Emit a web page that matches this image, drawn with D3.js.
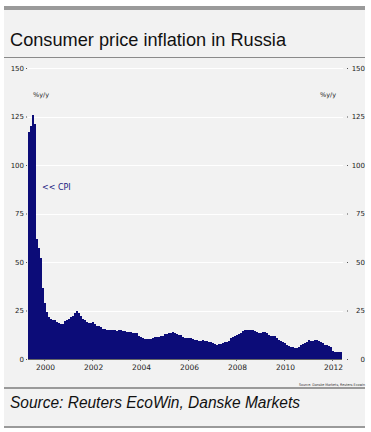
<!DOCTYPE html>
<html>
<head>
<meta charset="utf-8">
<script src="https://cdn.jsdelivr.net/npm/d3@7"></script>
<style>
  html, body { margin: 0; padding: 0; background: #ffffff; }
  svg { display: block; }
</style>
</head>
<body>
<svg id="chart" width="371" height="432"></svg>
<script>
// ---------- data ----------
const startMonth = "1999-05";           // first bar (monthly, y/y %)
const endMonth = "2012-06";             // axis end
const cpi1999 = [117, 120, 126, 121, 62, 57, 52, 36.5];           // May-Dec
const cpi2000 = [29, 24, 21.5, 20.5, 20, 20, 19, 18.5, 18, 18, 19.5, 20.2];
const cpi2001 = [20.7, 21.6, 22.2, 23.7, 24.8, 23.9, 22.2, 20.8, 20.1, 19.2, 18.6, 18.6];
const cpi2002 = [19.0, 17.9, 17.2, 16.8, 16.4, 15.5, 15.3, 15.0, 15.1, 15.1, 15.1, 15.1];
const cpi2003 = [14.3, 14.9, 14.8, 14.6, 14.6, 13.9, 13.9, 13.9, 13.6, 13.3, 13.3, 12.0];
const cpi2004 = [11.3, 10.6, 10.3, 10.2, 10.2, 10.4, 10.8, 11.4, 11.4, 11.5, 11.7, 11.7];
const cpi2005 = [12.7, 12.9, 13.5, 13.6, 13.8, 13.5, 13.0, 12.6, 12.3, 11.4, 11.0, 10.9];
const cpi2006 = [10.7, 10.9, 10.5, 9.9, 9.6, 9.5, 9.3, 9.6, 9.5, 9.2, 9.0, 9.0];
const cpi2007 = [8.2, 7.6, 7.4, 7.6, 7.8, 8.5, 8.7, 8.6, 9.4, 10.8, 11.5, 11.9];
const cpi2008 = [12.6, 12.7, 13.3, 14.3, 15.1, 15.1, 15.0, 15.0, 15.0, 14.2, 13.8, 13.3];
const cpi2009 = [13.4, 13.9, 14.0, 13.2, 12.5, 11.9, 12.0, 11.6, 10.7, 9.7, 9.1, 8.8];
const cpi2010 = [8.0, 7.2, 6.5, 6.0, 6.0, 5.8, 5.5, 6.1, 7.0, 7.5, 8.1, 8.8];
const cpi2011 = [9.6, 9.5, 9.5, 9.6, 9.6, 9.4, 9.0, 8.2, 7.2, 7.2, 6.8, 6.1];
const cpi2012 = [4.2, 3.7, 3.7, 3.6, 3.6];                          // Jan-May
const yTicks = [0, 25, 50, 75, 100, 125, 150];
const xTickYears = [2000, 2002, 2004, 2006, 2008, 2010, 2012];
const title = "Consumer price inflation in Russia";
const sourceText = "Source: Reuters EcoWin, Danske Markets";
const smallSource = "Source: Danske Markets, Reuters Ecowin";
const unitLabel = "%y/y";
const seriesLabel = "<< CPI";

// ---------- build ----------
const cpi = [].concat(cpi1999, cpi2000, cpi2001, cpi2002, cpi2003, cpi2004, cpi2005,
                      cpi2006, cpi2007, cpi2008, cpi2009, cpi2010, cpi2011, cpi2012);
const parse = d3.timeParse("%Y-%m");
const t0 = parse(startMonth), t1 = parse(endMonth);
const months = d3.timeMonth.range(t0, d3.timeMonth.offset(t0, cpi.length));
const data = months.map((d, i) => ({ date: d, value: cpi[i] }));

const svg = d3.select("#chart");
const panelColor = "#f2f2f2";
const barColor = "#0c0c78";
const textColor = "#222";
const fontTick = "'DejaVu Sans', sans-serif";

// panel background
svg.append("rect").attr("x", 4).attr("y", 6).attr("width", 361).attr("height", 422).attr("fill", panelColor);
// top bar
svg.append("rect").attr("x", 4).attr("y", 6).attr("width", 361).attr("height", 4).attr("fill", "#9a9a9a");
// title
svg.append("text").attr("x", 10).attr("y", 46)
  .attr("font-family", "'Liberation Sans', Arial, sans-serif").attr("font-size", 19)
  .attr("fill", "#111").attr("textLength", 276).attr("lengthAdjust", "spacingAndGlyphs")
  .text(title);
// line under title
svg.append("rect").attr("x", 4).attr("y", 57).attr("width", 361).attr("height", 1).attr("fill", "#8a8a8a");

// scales
const x = d3.scaleTime().domain([t0, t1]).range([28, 342]);
const y = d3.scaleLinear().domain([0, 150]).range([359, 68]);

// gridlines
svg.append("g").selectAll("line").data(yTicks.filter(d => d > 0)).join("line")
  .attr("x1", 28).attr("x2", 343)
  .attr("y1", d => Math.round(y(d)) + 0.5).attr("y2", d => Math.round(y(d)) + 0.5)
  .attr("stroke", "#ffffff").attr("stroke-width", 1);

// bars
svg.append("g").selectAll("rect").data(data).join("rect")
  .attr("x", d => x(d.date))
  .attr("width", d => x(d3.timeMonth.offset(d.date, 1)) - x(d.date))
  .attr("y", d => y(d.value))
  .attr("height", d => y(0) - y(d.value))
  .attr("fill", barColor)
  .attr("shape-rendering", "crispEdges");

// left axis
const left = svg.append("g").attr("transform", "translate(27,0)")
  .call(d3.axisLeft(y).tickValues(yTicks).tickSize(1).tickPadding(2));
left.select(".domain").remove();
left.selectAll(".tick line").attr("stroke", "#555");
left.selectAll("text").attr("font-family", fontTick).attr("font-size", 7).attr("fill", textColor);

// right axis
const right = svg.append("g").attr("transform", "translate(347,0)")
  .call(d3.axisRight(y).tickValues(yTicks).tickSize(1).tickPadding(2));
right.select(".domain").remove();
right.selectAll(".tick line").attr("stroke", "#555");
right.selectAll("text").attr("font-family", fontTick).attr("font-size", 7).attr("fill", textColor)
  .attr("text-anchor", "end").attr("x", 18);

// bottom axis
const bottom = svg.append("g").attr("transform", "translate(0,359)")
  .call(d3.axisBottom(x).tickValues(xTickYears.map(yr => new Date(yr, 0, 1)))
    .tickFormat(d3.timeFormat("%Y")).tickSize(2).tickPadding(4));
bottom.select(".domain").attr("stroke", "#666").attr("d", "M28,0.5H342");
bottom.selectAll(".tick line").attr("stroke", "#666");
bottom.selectAll("text").attr("font-family", fontTick).attr("font-size", 7.5).attr("fill", textColor)
  .attr("dx", 1);

// unit labels
svg.append("text").attr("x", 33).attr("y", 97).attr("font-family", fontTick).attr("font-size", 6.5)
  .attr("fill", textColor).text(unitLabel);
svg.append("text").attr("x", 320).attr("y", 97).attr("font-family", fontTick).attr("font-size", 6.5)
  .attr("fill", textColor).text(unitLabel);

// series label
svg.append("text").attr("x", 42).attr("y", 190).attr("font-family", fontTick).attr("font-size", 8)
  .attr("fill", "#1a1a80").text(seriesLabel);

// tiny source
svg.append("text").attr("x", 365).attr("y", 386).attr("text-anchor", "end")
  .attr("font-family", fontTick).attr("font-size", 3.6).attr("fill", "#333")
  .attr("textLength", 66).attr("lengthAdjust", "spacingAndGlyphs").text(smallSource);

// line above source
svg.append("rect").attr("x", 4).attr("y", 387).attr("width", 361).attr("height", 2).attr("fill", "#9a9a9a");
// source text
svg.append("text").attr("x", 10).attr("y", 408)
  .attr("font-family", "'Liberation Sans', Arial, sans-serif").attr("font-size", 16)
  .attr("font-style", "italic").attr("fill", "#111")
  .attr("textLength", 290).attr("lengthAdjust", "spacingAndGlyphs").text(sourceText);
// bottom line
svg.append("rect").attr("x", 4).attr("y", 426).attr("width", 361).attr("height", 2).attr("fill", "#9a9a9a");
</script>
</body>
</html>
